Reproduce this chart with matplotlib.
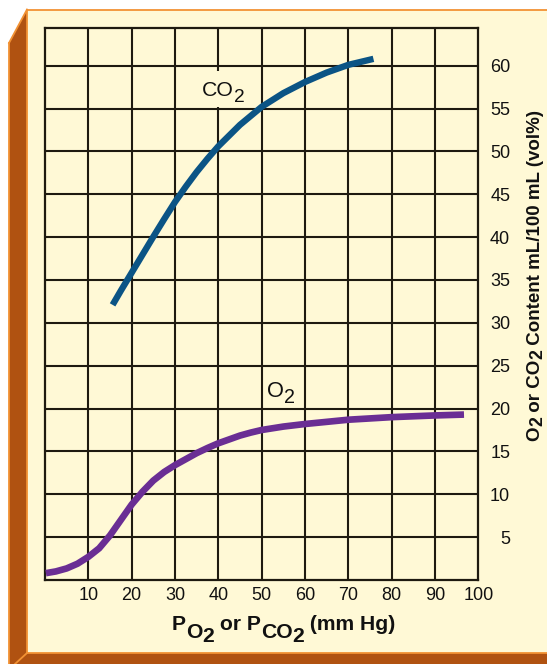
import matplotlib
matplotlib.use('Agg')
import matplotlib.pyplot as plt
from matplotlib.patches import Polygon, Rectangle
from matplotlib.lines import Line2D

plt.rcParams['font.family'] = ['Liberation Sans', 'DejaVu Sans']

# ---- data ----
co2_pressure = [15.6, 17.5, 20, 22.5, 25, 27.5, 30, 32.5, 35, 37.5, 40, 45, 50, 55, 60, 65, 70, 75.8]
co2_content = [32.1, 33.75, 35.85, 37.95, 40.05, 42.1, 44.1, 45.9, 47.6, 49.15, 50.6, 53.1, 55.2, 56.8,
               58.1, 59.2, 60.1, 60.8]

o2_pressure = [0.2, 2.5, 5, 7.5, 10, 12.5, 15, 17.5, 20, 22.5, 25, 27.5, 30, 32.5, 35, 37.5, 40,
               42.5, 45, 47.5, 50, 55, 60, 70, 80, 90, 96.7]
o2_content = [0.8, 1.0, 1.35, 1.9, 2.7, 3.7, 5.2, 7.0, 8.8, 10.3, 11.6, 12.6, 13.4, 14.1, 14.8,
              15.4, 15.95, 16.4, 16.85, 17.2, 17.5, 17.9, 18.2, 18.7, 19.0, 19.2, 19.3]

x_ticks = [10, 20, 30, 40, 50, 60, 70, 80, 90, 100]
y_ticks = [5, 10, 15, 20, 25, 30, 35, 40, 45, 50, 55, 60]

W, H = 547, 664
fig = plt.figure(figsize=(W / 100, H / 100), dpi=100)
fig.patch.set_facecolor('white')
renderer = fig.canvas.get_renderer()

def P(x, y):
    return (x / W, 1 - y / H)

cream = '#FFF9D6'
brown = '#B05211'
orange = '#F29234'
ink = '#111111'

# cream panel
fig.add_artist(Polygon([P(27, 9.5), P(W, 9.5), P(W, 653), P(27, 653)], closed=True,
                       transform=fig.transFigure, facecolor=cream, edgecolor='none', zorder=0))
# brown frame (left strip + bottom band)
fig.add_artist(Polygon([P(9, 43), P(27, 9.5), P(27, 653), P(W, 653), P(W, H), P(9, H)], closed=True,
                       transform=fig.transFigure, facecolor=brown, edgecolor='none', zorder=0))
for seg in [[(9, 43), (9, H)], [(9, 43), (27, 9.5)], [(27, 9.5), (W, 9.5)],
            [(27, 9.5), (27, 653)], [(27, 653), (W, 653)], [(27, 653), (15, H)]]:
    (x0, y0), (x1, y1) = seg
    fig.add_artist(Line2D([x0 / W, x1 / W], [1 - y0 / H, 1 - y1 / H], transform=fig.transFigure,
                          color=orange, lw=1.3, zorder=1))

ax = fig.add_axes([45 / W, 1 - 580 / H, (478.3 - 45) / W, (580 - 28) / H])
ax.set_facecolor(cream)
ax.set_xlim(0, 100)
ax.set_ylim(0, 64.4)

grid_c = '#1E1A10'
for xv in x_ticks[:-1]:
    ax.axvline(xv, color=grid_c, lw=1.5, zorder=1)
for yv in y_ticks:
    ax.axhline(yv, color=grid_c, lw=1.5, zorder=1)
for s in ax.spines.values():
    s.set_color(grid_c)
    s.set_linewidth(1.6)

ax.plot(co2_pressure, co2_content, color='#0B5485', lw=4.6, solid_capstyle='butt',
        solid_joinstyle='round', zorder=3)
ax.plot(o2_pressure, o2_content, color='#6A2E94', lw=4.8, solid_capstyle='butt',
        solid_joinstyle='round', zorder=3)

ax.set_xticks(x_ticks)
ax.set_xticklabels([str(v) for v in x_ticks], fontsize=13, color=ink)
ax.tick_params(axis='x', length=0, pad=5)

ax.yaxis.tick_right()
ax.set_yticks(y_ticks)
ax.set_yticklabels([str(v) for v in y_ticks], fontsize=13, color=ink)
ax.tick_params(axis='y', length=0, pad=23)
for lab in ax.get_yticklabels():
    lab.set_horizontalalignment('right')


def rich(x_img, y_img, pieces, size, weight, rotation=0):
    """pieces: (text, size scale, drop px at reference size). Start at baseline (image px)."""
    xd, yd = x_img, H - y_img
    pos = 0.0
    arts = []
    for s, sc, drop in pieces:
        d = drop * size / 13.0
        if rotation == 0:
            x, y = xd + pos, yd - d
        else:
            x, y = xd + d, yd + pos
        t = fig.text(x / W, y / H, s, fontsize=size * sc, fontweight=weight, rotation=rotation,
                     rotation_mode='anchor', ha='left', va='baseline', color=ink, zorder=4)
        bb = t.get_window_extent(renderer)
        pos += bb.width if rotation == 0 else bb.height
        arts.append(t)
    return arts, pos


def fitted(x_img, y_img, pieces, target, weight, rotation=0):
    arts, length = rich(x_img, y_img, pieces, 13.0, weight, rotation)
    for a in arts:
        a.remove()
    size = 13.0 * target / length
    rich(x_img, y_img, pieces, size, weight, rotation)


# curve labels (cream gap in the grid line behind the CO2 label)
fig.add_artist(Rectangle(P(212, 107.2), 12 / W, 36 / H, transform=fig.transFigure,
                         facecolor=cream, edgecolor='none', zorder=2))
fitted(201.7, 96.0, [('CO', 1.0, 0), ('2', 0.9, 5.0)], 42.5, 'normal')
fitted(267.0, 397.3, [('O', 1.0, 0), ('2', 0.9, 4.4)], 28.0, 'normal')

# axis titles
fitted(172.0, 630.0, [('P', 1.0, 0), ('O', 1.0, 6.5), ('2', 1.0, 10.5), (' or', 1.0, 0),
                      (' P', 1.0, 0), ('CO', 1.0, 6.5), ('2', 1.0, 10.5), (' (mm Hg)', 1.0, 0)],
       224.0, 'bold')
fitted(539.5, 441.0, [('O', 1.0, 0), ('2', 0.95, 3.0), (' or CO', 1.0, 0), ('2', 0.95, 3.0),
                      (' Content mL/100 mL (vol%)', 1.0, 0)], 331.0, 'bold', rotation=90)

fig.savefig('out.png', dpi=100, facecolor=fig.get_facecolor())
